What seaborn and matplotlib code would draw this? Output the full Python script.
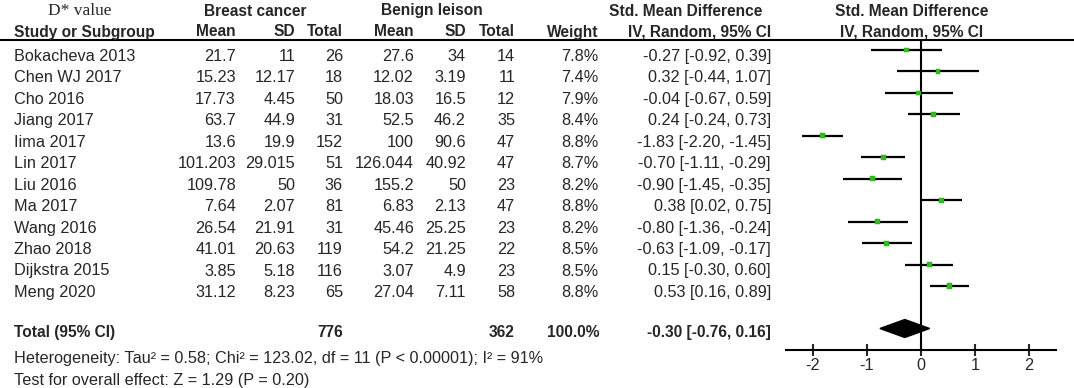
import numpy as np
import pandas as pd
import matplotlib
matplotlib.use('Agg')
import matplotlib.pyplot as plt
import seaborn as sns
from matplotlib.patches import Polygon

# Study data
studies = ['Bokacheva 2013', 'Chen WJ 2017', 'Cho 2016', 'Jiang 2017', 'Iima 2017',
           'Lin 2017', 'Liu 2016', 'Ma 2017', 'Wang 2016', 'Zhao 2018',
           'Dijkstra 2015', 'Meng 2020']
bc_mean = [21.7, 15.23, 17.73, 63.7, 13.6, 101.203, 109.78, 7.64, 26.54, 41.01, 3.85, 31.12]
bc_sd = [11, 12.17, 4.45, 44.9, 19.9, 29.015, 50, 2.07, 21.91, 20.63, 5.18, 8.23]
bc_total = [26, 18, 50, 31, 152, 51, 36, 81, 31, 119, 116, 65]
bl_mean = [27.6, 12.02, 18.03, 52.5, 100, 126.044, 155.2, 6.83, 45.46, 54.2, 3.07, 27.04]
bl_sd = [34, 3.19, 16.5, 46.2, 90.6, 40.92, 50, 2.13, 25.25, 21.25, 4.9, 7.11]
bl_total = [14, 11, 12, 35, 47, 47, 23, 47, 23, 22, 23, 58]
weight = [7.8, 7.4, 7.9, 8.4, 8.8, 8.7, 8.2, 8.8, 8.2, 8.5, 8.5, 8.8]
smd = [-0.27, 0.32, -0.04, 0.24, -1.83, -0.70, -0.90, 0.38, -0.80, -0.63, 0.15, 0.53]
ci_lo = [-0.92, -0.44, -0.67, -0.24, -2.20, -1.11, -1.45, 0.02, -1.36, -1.09, -0.30, 0.16]
ci_hi = [0.39, 1.07, 0.59, 0.73, -1.45, -0.29, -0.35, 0.75, -0.24, -0.17, 0.60, 0.89]

total_bc = 776
total_bl = 362
total_weight = 100.0
total_smd, total_lo, total_hi = -0.30, -0.76, 0.16
ticks = [-2, -1, 0, 1, 2]

heterogeneity = 'Heterogeneity: Tau\u00b2 = 0.58; Chi\u00b2 = 123.02, df = 11 (P < 0.00001); I\u00b2 = 91%'
overall = 'Test for overall effect: Z = 1.29 (P = 0.20)'

sns.set_style('white')
plt.rcParams['font.family'] = ['Liberation Sans', 'DejaVu Sans']

W, H = 1074, 388
fig = plt.figure(figsize=(W / 100, H / 100), dpi=100)

# text layer in pixel coordinates
tx = fig.add_axes([0, 0, 1, 1])
tx.set_xlim(0, W)
tx.set_ylim(H, 0)
tx.axis('off')

fs = 11.7
fb = 11.2
row_base = [61 + i * 21.45 for i in range(len(studies))]

# headers
tx.text(48, 15, 'D* value', fontsize=12.5, family=['Liberation Serif', 'DejaVu Serif'], va='baseline')
tx.text(255, 15.5, 'Breast cancer', fontsize=fb, weight='bold', ha='center', va='baseline')
tx.text(432, 15.5, 'Benign leison', fontsize=fb, weight='bold', ha='center', va='baseline')
tx.text(686, 15.5, 'Std. Mean Difference', fontsize=fb, weight='bold', ha='center', va='baseline')
tx.text(912, 15.5, 'Std. Mean Difference', fontsize=fb, weight='bold', ha='center', va='baseline')

cols_right = [236, 295, 343, 414, 466, 515, 598, 771]
hdr2 = ['Mean', 'SD', 'Total', 'Mean', 'SD', 'Total', 'Weight', 'IV, Random, 95% CI']
tx.text(14, 36.5, 'Study or Subgroup', fontsize=fb, weight='bold', va='baseline')
for xr, h in zip(cols_right, hdr2):
    tx.text(xr, 36.5, h, fontsize=fb, weight='bold', ha='right', va='baseline')
tx.text(912, 36.5, 'IV, Random, 95% CI', fontsize=fb, weight='bold', ha='center', va='baseline')
tx.plot([0, W], [39.5, 39.5], color='black', lw=1.5)

# study rows
for i, name in enumerate(studies):
    yb = row_base[i]
    vals = [f'{bc_mean[i]:g}', f'{bc_sd[i]:g}', f'{bc_total[i]}',
            f'{bl_mean[i]:g}', f'{bl_sd[i]:g}', f'{bl_total[i]}',
            f'{weight[i]:.1f}%', f'{smd[i]:.2f} [{ci_lo[i]:.2f}, {ci_hi[i]:.2f}]']
    tx.text(14, yb, name, fontsize=fs, va='baseline')
    for xr, v in zip(cols_right, vals):
        tx.text(xr, yb, v, fontsize=fs, ha='right', va='baseline')

# total row
tot_base = 337
tx.text(14, tot_base, 'Total (95% CI)', fontsize=fb, weight='bold', va='baseline')
tx.text(343, tot_base, f'{total_bc}', fontsize=fb, weight='bold', ha='right', va='baseline')
tx.text(515, tot_base, f'{total_bl}', fontsize=fb, weight='bold', ha='right', va='baseline')
tx.text(600, tot_base, f'{total_weight:.1f}%', fontsize=fb, weight='bold', ha='right', va='baseline')
tx.text(771, tot_base, f'{total_smd:.2f} [{total_lo:.2f}, {total_hi:.2f}]',
        fontsize=fb, weight='bold', ha='right', va='baseline')
tx.text(14, 363, heterogeneity, fontsize=fs, va='baseline')
tx.text(14, 385, overall, fontsize=fs, va='baseline')

# forest plot axes
x0, x1, ytop, ybot = 786, 1056, 39.5, 350
ax = fig.add_axes([x0 / W, 1 - ybot / H, (x1 - x0) / W, (ybot - ytop) / H])
ax.set_xlim(-2.5, 2.5)
ax.set_ylim(ybot, ytop)
ax.patch.set_alpha(0)

line_y = [b - 11 for b in row_base]
df = pd.DataFrame({'smd': smd, 'lo': ci_lo, 'hi': ci_hi, 'y': line_y, 'w': weight})
ax.hlines(df['y'], df['lo'], df['hi'], color='black', lw=1.6, zorder=2)
sns.scatterplot(data=df, x='smd', y='y', size='w', sizes=(10, 14), marker='s',
                color='#33bb22', edgecolor='#22aa11', linewidth=0.3, legend=False,
                ax=ax, zorder=3)

dy = 9
ty = 328.5
ax.add_patch(Polygon([[total_lo, ty], [total_smd, ty - dy], [total_hi, ty], [total_smd, ty + dy]],
                     closed=True, color='black', zorder=3))
ax.axvline(0, color='black', lw=1.5, zorder=1)

for s in ['top', 'left', 'right']:
    ax.spines[s].set_visible(False)
ax.spines['bottom'].set_linewidth(1.5)
ax.spines['bottom'].set_color('black')
ax.set_xticks(ticks)
ax.set_xticklabels([str(t) for t in ticks])
ax.set_yticks([])
ax.tick_params(axis='x', direction='inout', length=8, width=1.5, labelsize=fs, pad=2, bottom=True)
ax.set_xlabel('')
ax.set_ylabel('')

fig.savefig('out.png', dpi=100)
